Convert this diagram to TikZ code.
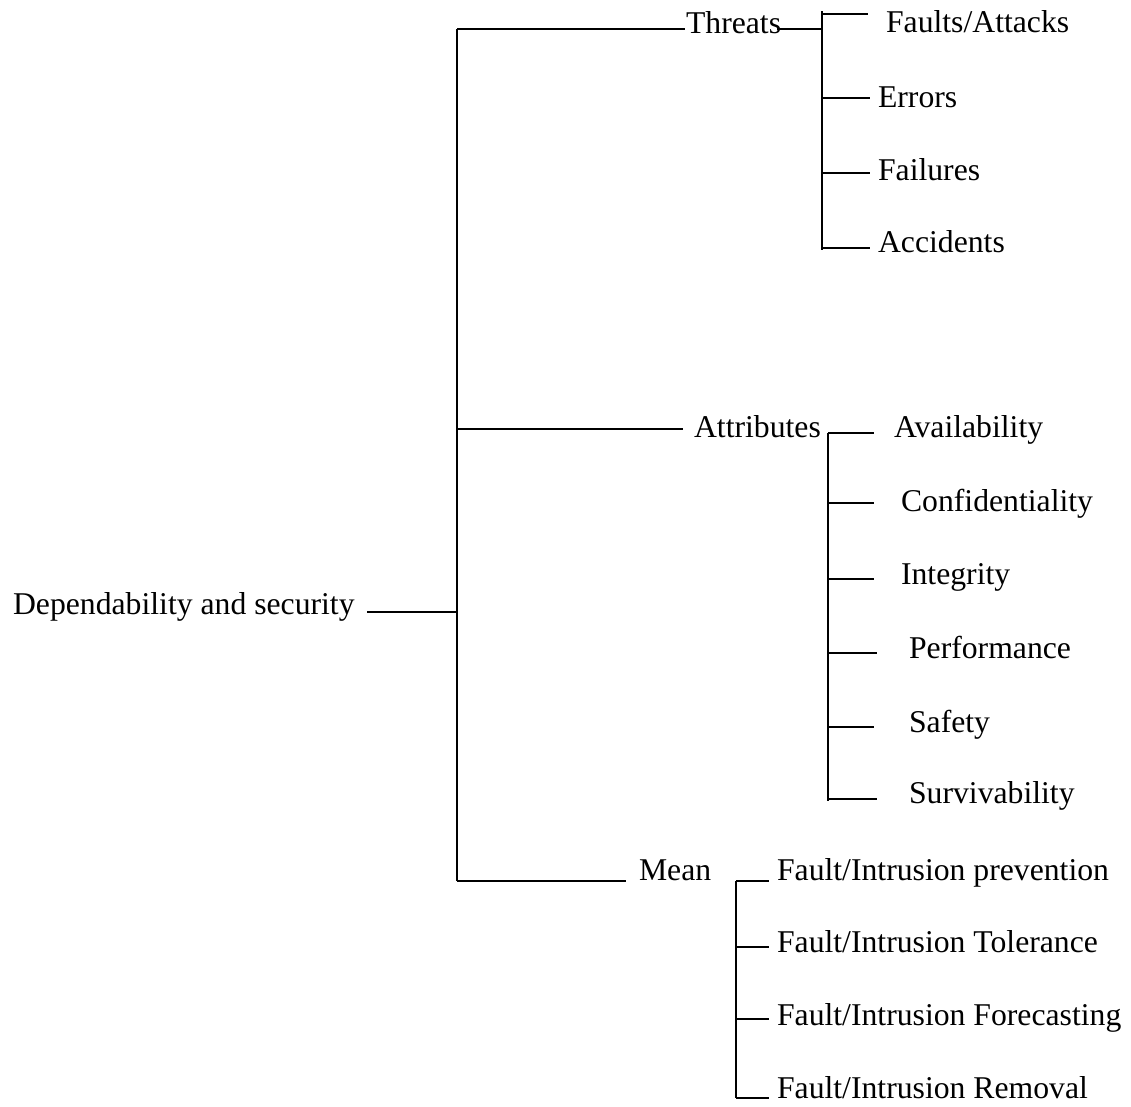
\documentclass[tikz,border=0pt]{standalone}
\usepackage{fontspec}
\setmainfont{Liberation Serif}
\begin{document}
\begin{tikzpicture}[x=1pt,y=-1pt,line width=2.1pt,
  lbl/.style={anchor=base west,inner sep=0pt,font=\fontsize{31.7}{36}\selectfont}]
\useasboundingbox (0,0) rectangle (1131,1106);

% labels
\node[lbl] (root) at (12,614) {Dependability and security};
\node[lbl] (thr) at (685,33) {Threats};
\node[lbl] (att) at (693,437) {Attributes};
\node[lbl] (mean) at (638,880) {Mean};

\node[lbl] (fa) at (885,32) {Faults/Attacks};
\node[lbl] (er) at (877,107) {Errors};
\node[lbl] (fl) at (877,180) {Failures};
\node[lbl] (ac) at (877,252) {Accidents};

\node[lbl] (av) at (893,437) {Availability};
\node[lbl] (co) at (900,511) {Confidentiality};
\node[lbl] (in) at (900,584) {Integrity};
\node[lbl] (pe) at (908,658) {Performance};
\node[lbl] (sa) at (908,732) {Safety};
\node[lbl] (su) at (908,803) {Survivability};

\node[lbl] (fp) at (776,880) {Fault/Intrusion prevention};
\node[lbl] (ft) at (776,952) {Fault/Intrusion Tolerance};
\node[lbl] (ff) at (776,1025) {Fault/Intrusion Forecasting};
\node[lbl] (fr) at (776,1098) {Fault/Intrusion Removal};

% trunk
\coordinate (rootEnd) at (367,612);
\coordinate (trR) at (457,612);
\coordinate (trT) at (457,29);
\coordinate (trA) at (457,429);
\coordinate (trM) at (457,881);
\draw (rootEnd) -- (trR);
\draw (trT) -- (trM);
\draw (trT) -- (685,29) coordinate (thrIn);
\draw (trA) -- (683,429) coordinate (attIn);
\draw (trM) -- (626,881) coordinate (meanIn);

% threats bracket
\coordinate (thrOut) at (777,29);
\coordinate (tvTop) at (822,11);
\coordinate (tvBot) at (822,250);
\draw (thrOut) -- (822,29);
\draw (tvTop) -- (tvBot);
\draw (822,14) -- (868,14) coordinate (faIn);
\draw (822,98) -- (870,98) coordinate (erIn);
\draw (822,173) -- (870,173) coordinate (flIn);
\draw (822,248) -- (870,248) coordinate (acIn);

% attributes bracket
\coordinate (avTop) at (828,433);
\coordinate (avBot) at (828,801);
\draw (avTop) -- (avBot);
\draw (828,433) -- (874,433) coordinate (avIn);
\draw (828,503) -- (874,503) coordinate (coIn);
\draw (828,579) -- (874,579) coordinate (inIn);
\draw (828,653) -- (877,653) coordinate (peIn);
\draw (828,727) -- (874,727) coordinate (saIn);
\draw (828,799) -- (877,799) coordinate (suIn);

% means bracket
\coordinate (mvTop) at (736,881);
\coordinate (mvBot) at (736,1098);
\draw (mvTop) -- (mvBot);
\draw (736,881) -- (769,881) coordinate (fpIn);
\draw (736,947) -- (769,947) coordinate (ftIn);
\draw (736,1019) -- (769,1019) coordinate (ffIn);
\draw (736,1098) -- (769,1098) coordinate (frIn);
\end{tikzpicture}
\end{document}
